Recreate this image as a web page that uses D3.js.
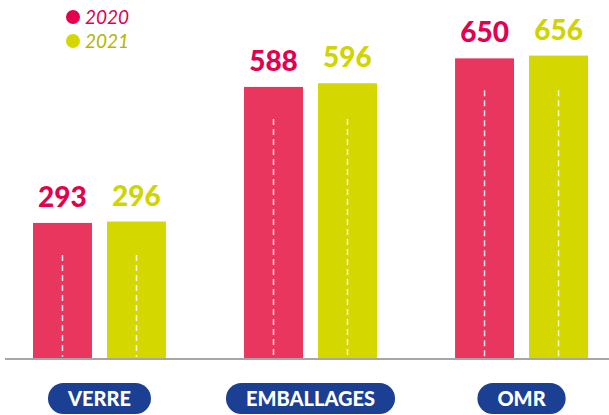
<!DOCTYPE html>
<html>
<head>
<meta charset="utf-8">
<script src="https://cdn.jsdelivr.net/npm/d3@7"></script>
<style>
  body { margin: 0; background: #fff; }
  svg { display: block; font-family: Lato, "Open Sans", sans-serif; }
</style>
</head>
<body>
<div class="chart"></div>
<script>
// data
var categories = ['VERRE', 'EMBALLAGES', 'OMR'];
var years = ['2020', '2021'];
var values2020 = [293, 588, 650];
var values2021 = [296, 596, 656];

var svgWidth = 609;
var svgHeight = 415;
var baseline = 358;

var barColor = {'2020': '#e8365f', '2021': '#d4d800'};
var labelColor = {'2020': '#e3004f', '2021': '#d0d400'};
var legendText = {'2020': '#e3004f', '2021': '#b5b500'};

var svg = d3.select('.chart')
    .append('svg')
    .attr('width', svgWidth)
    .attr('height', svgHeight);

var rows = categories.map(function(c, i) {
    return {cat: c, vals: [
        {year: '2020', value: values2020[i]},
        {year: '2021', value: values2021[i]}
    ]};
});

// scales
var x0 = d3.scaleBand().domain(categories).range([33, 588]).paddingInner(0.37).paddingOuter(0);
var x1 = d3.scaleBand().domain(years).range([0, x0.bandwidth()]).paddingInner(0.203).paddingOuter(0);
var y = d3.scaleLinear().domain([0, 700]).range([baseline, baseline - 700 * 0.461]);

var groups = svg.selectAll('.group')
    .data(rows)
    .enter()
    .append('g')
    .attr('class', 'group')
    .attr('transform', function(d) { return 'translate(' + x0(d.cat) + ',0)'; });

groups.selectAll('rect')
    .data(function(d) { return d.vals; })
    .enter()
    .append('rect')
    .attr('x', function(d) { return x1(d.year); })
    .attr('y', function(d) { return y(d.value); })
    .attr('width', x1.bandwidth())
    .attr('height', function(d) { return baseline - y(d.value); })
    .attr('fill', function(d) { return barColor[d.year]; });

// dashed centre lines
groups.each(function(g) {
    var minV = d3.min(g.vals, function(d) { return d.value; });
    d3.select(this).selectAll('.dash')
        .data(g.vals)
        .enter()
        .append('line')
        .attr('x1', function(d) { return x1(d.year) + x1.bandwidth() / 2; })
        .attr('x2', function(d) { return x1(d.year) + x1.bandwidth() / 2; })
        .attr('y1', y(minV) + 32)
        .attr('y2', baseline - 1)
        .attr('stroke', 'rgba(255,255,255,0.85)')
        .attr('stroke-width', 1.5)
        .attr('stroke-dasharray', '6,4');
});

// value labels
groups.selectAll('.val')
    .data(function(d) { return d.vals; })
    .enter()
    .append('text')
    .attr('x', function(d) { return x1(d.year) + x1.bandwidth() / 2; })
    .attr('y', function(d) { return y(d.value) - 16; })
    .attr('text-anchor', 'middle')
    .attr('font-size', '28px')
    .attr('font-weight', 900)
    .attr('fill', function(d) { return labelColor[d.year]; })
    .text(function(d) { return d.value; });

// axis line
svg.append('line')
    .attr('x1', 5).attr('x2', 609)
    .attr('y1', baseline + 1).attr('y2', baseline + 1)
    .attr('stroke', '#a6a6a6')
    .attr('stroke-width', 2);

// category pills
var pills = svg.selectAll('.pill')
    .data(categories)
    .enter()
    .append('g')
    .attr('class', 'pill')
    .attr('transform', function(d) { return 'translate(' + (x0(d) + x0.bandwidth() / 2) + ',398.5)'; });

pills.append('rect').attr('fill', '#1b3f93');
pills.append('text')
    .attr('text-anchor', 'middle')
    .attr('dy', '0.36em')
    .attr('font-size', '20px')
    .attr('font-weight', 900)
    .attr('fill', '#fff')
    .text(function(d) { return d; });
pills.each(function() {
    var w = d3.select(this).select('text').node().getComputedTextLength() + 40;
    d3.select(this).select('rect')
        .attr('x', -w / 2).attr('y', -15.5)
        .attr('width', w).attr('height', 31)
        .attr('rx', 15.5);
});

// legend
var legend = svg.selectAll('.legend')
    .data(years)
    .enter()
    .append('g')
    .attr('class', 'legend')
    .attr('transform', function(d, i) { return 'translate(73,' + (17 + i * 24) + ')'; });
legend.append('circle')
    .attr('r', 7)
    .attr('fill', function(d) { return d === '2020' ? '#e3004f' : barColor[d]; });
legend.append('text')
    .attr('x', 12)
    .attr('dy', '0.35em')
    .attr('font-size', '19px')
    .attr('font-style', 'italic')
    .attr('fill', function(d) { return legendText[d]; })
    .text(function(d) { return d; });
</script>
</body>
</html>
